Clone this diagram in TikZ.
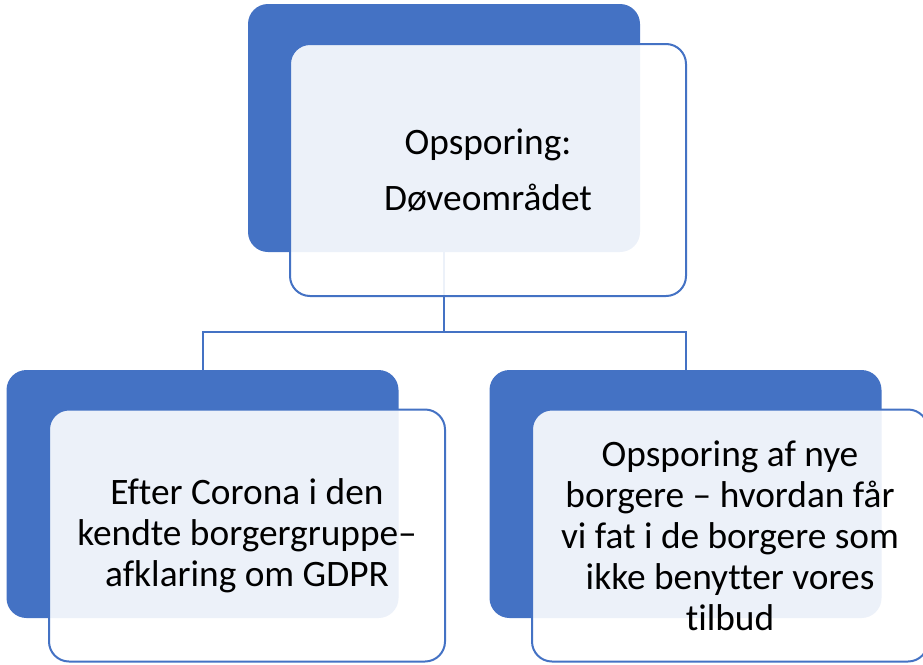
\documentclass[tikz,border=0pt]{standalone}
\usepackage{fontspec}
\setmainfont[Ligatures=NoCommon]{Carlito}
\usetikzlibrary{positioning}

\definecolor{accent}{HTML}{4472C4}

\tikzset{
  backbox/.style={fill=accent, rounded corners=15pt, minimum width=294pt, minimum height=186pt, inner sep=0pt},
  frontbox/.style={draw=accent, line width=1.5pt, fill=white, fill opacity=0.9, text opacity=1,
    rounded corners=15pt, minimum width=297pt, minimum height=189pt, inner sep=0pt, align=center,
    font=\fontsize{28}{30.75}\selectfont},
  link/.style={draw=accent, line width=1.5pt}
}

\begin{document}
\begin{tikzpicture}[x=0.75pt, y=-0.75pt]
\useasboundingbox (0,0) rectangle (923,664);

% back boxes
\node[backbox] (topback) at (444,128) {};
\node[backbox] (leftback) at (202.5,494) {};
\node[backbox] (rightback) at (685.5,494) {};

% connectors
\draw[link] (topback.south) -- ++(0,80) -| (leftback.north);
\draw[link] (topback.south) -- ++(0,80) -| (rightback.north);

% front boxes
\node[frontbox, font=\fontsize{28}{42}\selectfont] (topfront) at (488,170) {Opsporing:\\Døveområdet};
\node[frontbox] (leftfront) at (247,535.5) {Efter Corona i den\\kendte borgergruppe–\\afklaring om GDPR};
\node[frontbox] (rightfront) at (730,535.5) {Opsporing af nye\\borgere – hvordan får\\vi fat i de borgere som\\ikke benytter vores\\tilbud};

\end{tikzpicture}
\end{document}
